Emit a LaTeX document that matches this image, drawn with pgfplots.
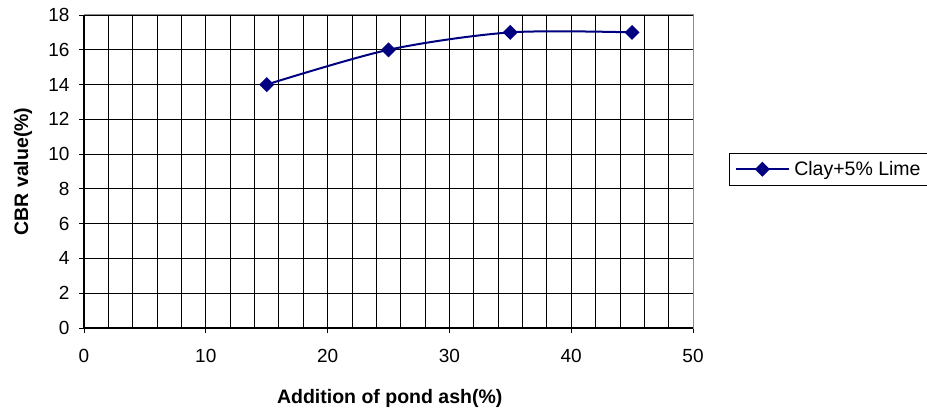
\documentclass[border=0pt]{standalone}
\usepackage{pgfplots}
\pgfplotsset{compat=1.18}
\usepackage{fontspec}
\setmainfont{Liberation Sans}
\definecolor{navyline}{RGB}{0,0,128}
\begin{document}
\begin{tikzpicture}[x=1bp,y=1bp]
\path[use as bounding box] (0,0) rectangle (927,411);
\begin{axis}[
  at={(84bp,83bp)}, anchor=south west,
  scale only axis,
  width=609bp, height=313bp,
  xmin=0, xmax=50, ymin=0, ymax=18,
  xtick={0,10,20,30,40,50},
  ytick={0,2,4,6,8,10,12,14,16,18},
  minor x tick num=4,
  minor tick length=0pt,
  major tick length=5bp,
  tick align=outside,
  xtick pos=bottom, ytick pos=left,
  grid=both,
  major grid style={black, line width=0.8pt},
  minor grid style={black, line width=0.8pt},
  axis line style={draw=gray!90, line width=1pt},
  tick style={black, line width=0.8pt},
  /pgf/number format/assume math mode=true,
  ticklabel style={font=\fontsize{19bp}{22bp}\selectfont},
  xticklabel style={yshift=-13bp},
  yticklabel style={xshift=-6bp},
  xlabel={Addition of pond ash(\%)},
  ylabel={CBR value(\%)},
  label style={font=\fontsize{19.5bp}{23bp}\selectfont\bfseries},
  xlabel style={at={(axis description cs:0.502,-0.226)}, anchor=center},
  ylabel style={at={(axis description cs:-0.100,0.5)}, anchor=center},
  legend style={at={(rel axis cs:1.059,0.559)}, anchor=north west,
    draw=black, line width=0.8pt, fill=white,
    font=\fontsize{19.5bp}{23bp}\selectfont,
    inner xsep=6bp, inner ysep=6bp,
    /tikz/every odd column/.append style={column sep=3bp}},
  legend cell align=left,
  legend image code/.code={%
    \draw[mark repeat=2,mark phase=2,#1] plot coordinates {(0bp,0bp) (26bp,0bp) (52bp,0bp)};},
]
\addplot[navyline, line width=2bp, smooth, tension=0.5,
  mark=square*, mark size=4.3bp, mark options={rotate=45, solid, fill=navyline, draw=navyline}]
  coordinates {(15,14) (25,16) (35,17) (45,17)};
\addlegendentry{Clay+5\% Lime}
\end{axis}
\draw[black, line width=1.2pt] (84,411-15) -- (84,83) -- (693,83);
\end{tikzpicture}
\end{document}
